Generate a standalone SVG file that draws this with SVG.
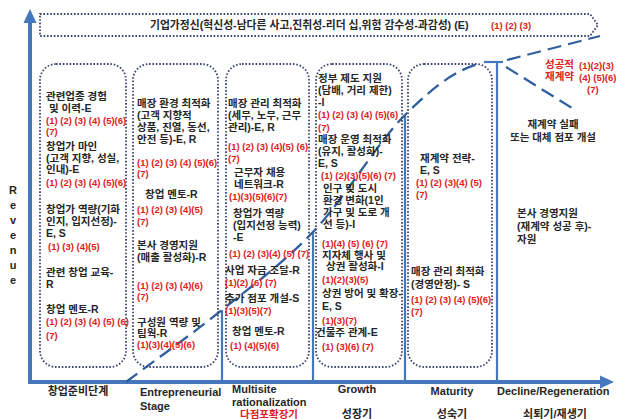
<svg xmlns="http://www.w3.org/2000/svg" width="621" height="419" viewBox="0 0 621 419">
<defs>
<style>
text{font-family:"Liberation Sans","Noto Sans CJK KR",sans-serif;font-weight:bold}
.t{font-size:10.5px;fill:#262626}
.r{font-size:9.5px;fill:#e0201c}
.rk{font-size:10.5px;fill:#e0201c}
.b{font-size:11px;fill:#262626}
.box{fill:none;stroke:#3a4670;stroke-width:1.8;stroke-dasharray:1.6 1.8}
.ax{stroke:#4577bd;stroke-width:4;fill:none}
.vl{stroke:#4577bd;stroke-width:2.2;fill:none}
.cv{stroke:#2f5f9f;stroke-width:2.3;fill:none;stroke-dasharray:14 7}
</style>
</defs>
<rect width="621" height="419" fill="#ffffff"/>

<g id="connectors">
<line class="ax" x1="30" y1="384" x2="30" y2="22"/>
<polygon points="30,9 23.5,23 36.5,23" fill="#4577bd"/>
<line class="ax" x1="28" y1="382" x2="602" y2="382"/>
<polygon points="614,382 600,375.5 600,388.5" fill="#4577bd"/>
<line class="vl" x1="222" y1="310" x2="222" y2="382"/>
<line class="vl" x1="313" y1="232" x2="313" y2="382"/>
<line class="vl" x1="405" y1="115" x2="405" y2="382"/>
<line class="vl" x1="497" y1="62" x2="497" y2="382"/>
<line class="vl" x1="484" y1="62" x2="503" y2="62"/>
<path class="cv" d="M126,382 C156.7,359 186.8,338 218,313 C249.2,288 281.8,264.7 313,232 C344.2,199.3 376.8,143 405,115 C433.2,87 456.3,69 482,63"/>
<path class="cv" d="M507,60 L600,36"/>
<path class="cv" d="M506,67 L572,108"/>
</g>

<g id="banner">
<path class="box" d="M40,14 H590 L598,25 L590,36 H40 Z"/>
<text class="t" x="150" y="28.5" style="font-size:10.8px">기업가정신(혁신성-남다른 사고,진취성-리더 십,위험 감수성-과감성) (E)</text>
<text class="r" x="491" y="28.5">(1) (2) (3)</text>
</g>

<g id="ylabel">
<text class="b" text-anchor="middle" x="13" y="194">R</text>
<text class="b" text-anchor="middle" x="13" y="209">e</text>
<text class="b" text-anchor="middle" x="13" y="224">v</text>
<text class="b" text-anchor="middle" x="13" y="239">e</text>
<text class="b" text-anchor="middle" x="13" y="254">n</text>
<text class="b" text-anchor="middle" x="13" y="269">u</text>
<text class="b" text-anchor="middle" x="13" y="284">e</text>
</g>

<g id="col1">
<rect class="box" x="40" y="64" width="86" height="303" rx="16"/>
<text class="t" x="46" y="100">관련업종 경험</text>
<text class="t" x="49" y="112">및 이력-E</text>
<text class="r" x="46" y="124">(1) (2) (3) (4) (5)(6)</text>
<text class="r" x="46" y="135">(7)</text>
<text class="t" x="46" y="150">창업가 마인</text>
<text class="t" x="46" y="162">(고객 지향, 성실,</text>
<text class="t" x="46" y="173">인내)-E</text>
<text class="r" x="46" y="186">(1) (2) (3) (4) (5)(6)</text>
<text class="t" x="46" y="213">창업가 역량(기화</text>
<text class="t" x="46" y="225">인지, 입지선정)-</text>
<text class="t" x="46" y="237">E, S</text>
<text class="r" x="48" y="250">(1) (3) (4)(5)</text>
<text class="t" x="46" y="276">관련 창업 교육-</text>
<text class="t" x="46" y="288">R</text>
<text class="t" x="46" y="313">창업 멘토-R</text>
<text class="r" x="46" y="325">(1) (2) (3) (4) (5) (6)</text>
<text class="r" x="46" y="339">(7)</text>
</g>

<g id="col2">
<rect class="box" x="133" y="64" width="85" height="303" rx="16"/>
<text class="t" x="137" y="107">매장 환경 최적화</text>
<text class="t" x="137" y="119">(고객 지향적</text>
<text class="t" x="137" y="131">상품, 진열, 동선,</text>
<text class="t" x="137" y="143">안전 등)-E, R</text>
<text class="r" x="137" y="166">(1) (2) (3) (4) (5)(6)</text>
<text class="r" x="137" y="177">(7)</text>
<text class="t" x="145" y="198">창업 멘토-R</text>
<text class="r" x="137" y="213">(1) (2) (3) (4)(5)</text>
<text class="r" x="137" y="225">(7)</text>
<text class="t" x="137" y="249">본사 경영지원</text>
<text class="t" x="137" y="261">(매출 활성화)-R</text>
<text class="r" x="137" y="289">(1) (2) (3) (4)(6)</text>
<text class="r" x="137" y="300">(7)</text>
<text class="t" x="137" y="326">구성원 역량 및</text>
<text class="t" x="137" y="337">팀웍-R</text>
<text class="r" x="137" y="348">(1)(3)(4)(5)(6)</text>
</g>

<g id="col3">
<rect class="box" x="226" y="64" width="83" height="303" rx="16"/>
<text class="t" x="228" y="107">매장 관리 최적화</text>
<text class="t" x="228" y="119">(세무, 노무, 근무</text>
<text class="t" x="228" y="131">관리)-E, R</text>
<text class="r" x="228" y="150">(1) (2) (3) (4)(5) (6)</text>
<text class="r" x="228" y="162">(7)</text>
<text class="t" x="234" y="176">근무자 채용</text>
<text class="t" x="234" y="188">네트워크-R</text>
<text class="r" x="229" y="200">(1)(3)(5)(6)(7)</text>
<text class="t" x="233" y="217">창업가 역량</text>
<text class="t" x="233" y="229">(입지선정 능력)</text>
<text class="t" x="233" y="241">-E</text>
<text class="r" x="229" y="257">(1) (2) (3)(4) (5) (7)</text>
<text class="t" x="225" y="274">사업 자금 조달-R</text>
<text class="r" x="225" y="286">(1)(2) (6) (7)</text>
<text class="t" x="225" y="302">추가 점포 개설-S</text>
<text class="r" x="225" y="314">(1)(3)(5)(7)</text>
<text class="t" x="232" y="335">창업 멘토-R</text>
<text class="r" x="230" y="349">(1) (4)(5)(6)</text>
</g>

<g id="col4">
<rect class="box" x="316" y="64" width="86" height="303" rx="16"/>
<text class="t" x="318" y="82">정부 제도 지원</text>
<text class="t" x="318" y="94">(담배, 거리 제한)</text>
<text class="t" x="318" y="106">-I</text>
<text class="r" x="318" y="118">(1) (2) (3) (4) (5)(6)</text>
<text class="r" x="318" y="131">(7)</text>
<text class="t" x="318" y="143">매장 운영 최적화</text>
<text class="t" x="318" y="155">(유지, 활성화)-</text>
<text class="t" x="318" y="167">E, S</text>
<text class="r" x="321" y="179">(1) (2)(3)(5)(6) (7)</text>
<text class="t" x="323" y="192">인구 및 도시</text>
<text class="t" x="323" y="204">환경 변화(1인</text>
<text class="t" x="323" y="216">가구 및 도로 개</text>
<text class="t" x="323" y="228">선 등)-I</text>
<text class="r" x="322" y="247">(1)(4) (5) (6) (7)</text>
<text class="t" x="322" y="259">지자체 행사 및</text>
<text class="t" x="326" y="270">상권 활성화-I</text>
<text class="r" x="322" y="283">(1)(2)(3)(5)</text>
<text class="t" x="322" y="297">상권 방어 및 확장-</text>
<text class="t" x="322" y="310">E, S</text>
<text class="r" x="322" y="324">(1)(3)(7)</text>
<text class="t" x="316" y="336">건물주 관계-E</text>
<text class="r" x="322" y="350">(1) (3)(6) (7)</text>
</g>

<g id="col5">
<rect class="box" x="408" y="64" width="84" height="303" rx="16"/>
<text class="t" x="420" y="162">재계약 전략-</text>
<text class="t" x="420" y="174">E, S</text>
<text class="r" x="416" y="186">(1) (2) (3)(4) (5)</text>
<text class="r" x="416" y="198">(7)</text>
<text class="t" x="411" y="275">매장 관리 최적화</text>
<text class="t" x="411" y="288">(경영안정)- S</text>
<text class="r" x="411" y="303">(1) (2) (3) (4) (5)(6)</text>
<text class="r" x="411" y="315">(7)</text>
</g>

<g id="col6">
<text class="rk" x="545" y="68">성공적</text>
<text class="rk" x="545" y="80">재계약</text>
<text class="r" x="579" y="69">(1)(2)(3)</text>
<text class="r" x="579" y="81">(4) (5)(6)</text>
<text class="r" x="587" y="93">(7)</text>
<text class="t" text-anchor="middle" x="553" y="128">재계약 실패</text>
<text class="t" text-anchor="middle" x="553" y="141">또는 대체 점포 개설</text>
<text class="t" x="517" y="217">본사 경영지원</text>
<text class="t" x="517" y="230">(재계약 성공 후)-</text>
<text class="t" x="517" y="243">자원</text>
</g>

<g id="stages">
<text class="b" text-anchor="middle" x="78" y="395">창업준비단계</text>
<text class="b" x="140" y="396">Entrepreneurial</text>
<text class="b" x="140" y="410">Stage</text>
<text class="b" x="232" y="393">Multisite</text>
<text class="b" x="232" y="406">rationalization</text>
<text class="rk" x="240" y="417.5">다점포확장기</text>
<text class="b" text-anchor="middle" x="357" y="393">Growth</text>
<text class="b" text-anchor="middle" x="357" y="417.5">성장기</text>
<text class="b" text-anchor="middle" x="452" y="395">Maturity</text>
<text class="b" text-anchor="middle" x="452" y="417.5">성숙기</text>
<text class="b" x="497" y="395">Decline/Regeneration</text>
<text class="b" text-anchor="middle" x="555" y="417.5">쇠퇴기/재생기</text>
</g>
</svg>
